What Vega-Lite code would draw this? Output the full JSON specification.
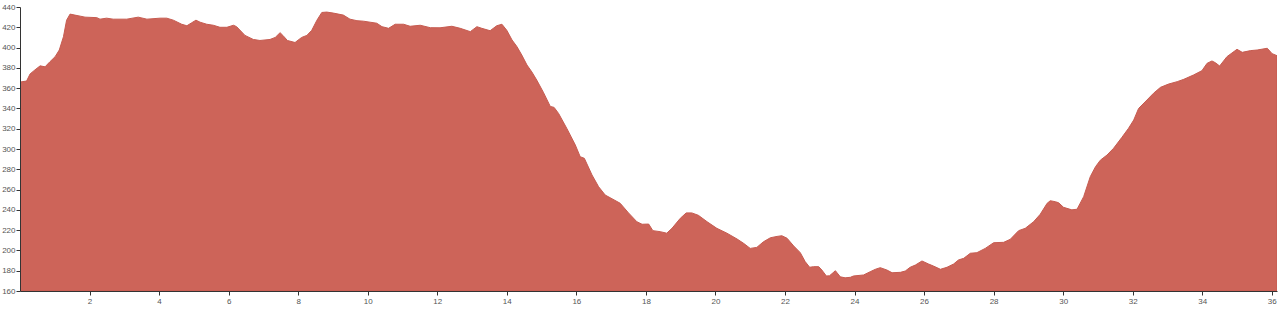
{
  "$schema": "https://vega.github.io/schema/vega-lite/v6.json",
  "width": 1257,
  "height": 284,
  "autosize": {"type": "none"},
  "padding": {"left": 20, "top": 7, "right": 4, "bottom": 19},
  "background": "white",
  "config": {"view": {"stroke": null}},
  "data": {"values": [
    {"d": 0.0, "e": 366}, {"d": 0.19, "e": 367}, {"d": 0.29, "e": 374}, {"d": 0.43, "e": 378},
    {"d": 0.58, "e": 382}, {"d": 0.72, "e": 381}, {"d": 0.86, "e": 386}, {"d": 1.01, "e": 391},
    {"d": 1.13, "e": 397.6}, {"d": 1.25, "e": 410.7}, {"d": 1.34, "e": 427}, {"d": 1.44, "e": 433},
    {"d": 1.58, "e": 432}, {"d": 1.73, "e": 431}, {"d": 1.87, "e": 430}, {"d": 2.21, "e": 429.5},
    {"d": 2.3, "e": 428}, {"d": 2.49, "e": 429}, {"d": 2.68, "e": 428}, {"d": 3.07, "e": 428},
    {"d": 3.4, "e": 430}, {"d": 3.65, "e": 428}, {"d": 4.03, "e": 429}, {"d": 4.22, "e": 429},
    {"d": 4.41, "e": 427}, {"d": 4.65, "e": 423}, {"d": 4.8, "e": 421.5}, {"d": 4.94, "e": 424.5},
    {"d": 5.06, "e": 427}, {"d": 5.18, "e": 425}, {"d": 5.37, "e": 423}, {"d": 5.56, "e": 422},
    {"d": 5.75, "e": 420}, {"d": 5.95, "e": 420}, {"d": 6.14, "e": 422}, {"d": 6.23, "e": 420.6},
    {"d": 6.47, "e": 412}, {"d": 6.71, "e": 408}, {"d": 6.9, "e": 407}, {"d": 7.19, "e": 408},
    {"d": 7.34, "e": 410}, {"d": 7.48, "e": 414.7}, {"d": 7.56, "e": 412}, {"d": 7.69, "e": 407},
    {"d": 7.91, "e": 405}, {"d": 8.1, "e": 410}, {"d": 8.25, "e": 412}, {"d": 8.39, "e": 417},
    {"d": 8.54, "e": 427}, {"d": 8.68, "e": 434.6}, {"d": 8.82, "e": 435}, {"d": 9.01, "e": 434},
    {"d": 9.3, "e": 432}, {"d": 9.49, "e": 428}, {"d": 9.69, "e": 426.5}, {"d": 9.88, "e": 426},
    {"d": 10.07, "e": 425}, {"d": 10.26, "e": 424}, {"d": 10.41, "e": 420.6}, {"d": 10.6, "e": 419},
    {"d": 10.79, "e": 423}, {"d": 11.03, "e": 423}, {"d": 11.22, "e": 421}, {"d": 11.51, "e": 422},
    {"d": 11.8, "e": 419.6}, {"d": 12.08, "e": 419.5}, {"d": 12.42, "e": 421}, {"d": 12.66, "e": 419},
    {"d": 12.95, "e": 415.7}, {"d": 13.14, "e": 420.6}, {"d": 13.28, "e": 419}, {"d": 13.52, "e": 416.6},
    {"d": 13.71, "e": 421.5}, {"d": 13.86, "e": 423}, {"d": 14.0, "e": 417}, {"d": 14.15, "e": 407.5},
    {"d": 14.29, "e": 401}, {"d": 14.43, "e": 392.7}, {"d": 14.58, "e": 382.8}, {"d": 14.72, "e": 376},
    {"d": 14.86, "e": 368}, {"d": 15.05, "e": 356}, {"d": 15.25, "e": 342}, {"d": 15.36, "e": 341},
    {"d": 15.49, "e": 335}, {"d": 15.73, "e": 320}, {"d": 15.97, "e": 304}, {"d": 16.11, "e": 292.4},
    {"d": 16.23, "e": 290.8}, {"d": 16.45, "e": 274.4}, {"d": 16.64, "e": 262.8}, {"d": 16.83, "e": 254.6},
    {"d": 16.97, "e": 252}, {"d": 17.26, "e": 246.5}, {"d": 17.5, "e": 237}, {"d": 17.74, "e": 228.3},
    {"d": 17.89, "e": 225.8}, {"d": 18.08, "e": 226}, {"d": 18.2, "e": 219.5}, {"d": 18.41, "e": 218.5},
    {"d": 18.6, "e": 217}, {"d": 18.75, "e": 221.8}, {"d": 18.99, "e": 231.7}, {"d": 19.16, "e": 237},
    {"d": 19.32, "e": 237}, {"d": 19.51, "e": 234.6}, {"d": 19.76, "e": 228.3}, {"d": 20.04, "e": 221.8},
    {"d": 20.33, "e": 217}, {"d": 20.62, "e": 211.3}, {"d": 20.81, "e": 207}, {"d": 21.0, "e": 202},
    {"d": 21.19, "e": 203}, {"d": 21.38, "e": 208.5}, {"d": 21.58, "e": 212.5}, {"d": 21.77, "e": 213.8},
    {"d": 21.91, "e": 214.5}, {"d": 22.06, "e": 212}, {"d": 22.25, "e": 204.4}, {"d": 22.44, "e": 197.8},
    {"d": 22.58, "e": 189}, {"d": 22.71, "e": 183.4}, {"d": 22.82, "e": 184}, {"d": 22.97, "e": 184},
    {"d": 23.06, "e": 180.7}, {"d": 23.19, "e": 174.8}, {"d": 23.28, "e": 175}, {"d": 23.45, "e": 180},
    {"d": 23.59, "e": 174}, {"d": 23.73, "e": 173}, {"d": 23.88, "e": 173.5}, {"d": 23.97, "e": 174.8},
    {"d": 24.26, "e": 175.8}, {"d": 24.45, "e": 179}, {"d": 24.6, "e": 181.4}, {"d": 24.74, "e": 183},
    {"d": 24.93, "e": 180.7}, {"d": 25.08, "e": 178}, {"d": 25.32, "e": 178.4}, {"d": 25.46, "e": 179.7},
    {"d": 25.6, "e": 183.4}, {"d": 25.75, "e": 185.6}, {"d": 25.94, "e": 189.6}, {"d": 26.13, "e": 186.6},
    {"d": 26.27, "e": 184.6}, {"d": 26.47, "e": 181.4}, {"d": 26.66, "e": 183.4}, {"d": 26.85, "e": 186.6},
    {"d": 26.99, "e": 190.6}, {"d": 27.14, "e": 192.2}, {"d": 27.33, "e": 197.2}, {"d": 27.52, "e": 197.8},
    {"d": 27.76, "e": 202}, {"d": 28.0, "e": 207.6}, {"d": 28.29, "e": 208}, {"d": 28.48, "e": 211},
    {"d": 28.72, "e": 219.5}, {"d": 28.91, "e": 221.8}, {"d": 29.15, "e": 228.3}, {"d": 29.34, "e": 235.6},
    {"d": 29.54, "e": 246.5}, {"d": 29.63, "e": 249}, {"d": 29.78, "e": 248}, {"d": 29.87, "e": 247},
    {"d": 30.01, "e": 242.5}, {"d": 30.25, "e": 240}, {"d": 30.4, "e": 240.6}, {"d": 30.59, "e": 253},
    {"d": 30.78, "e": 272.7}, {"d": 30.93, "e": 282.5}, {"d": 31.07, "e": 289}, {"d": 31.26, "e": 294},
    {"d": 31.45, "e": 300.7}, {"d": 31.69, "e": 311.5}, {"d": 31.88, "e": 320.4}, {"d": 32.03, "e": 328.6},
    {"d": 32.17, "e": 340}, {"d": 32.41, "e": 348.3}, {"d": 32.6, "e": 355}, {"d": 32.8, "e": 360.8},
    {"d": 33.03, "e": 364}, {"d": 33.28, "e": 366.4}, {"d": 33.47, "e": 368.7}, {"d": 33.75, "e": 373},
    {"d": 33.99, "e": 377.2}, {"d": 34.14, "e": 384.5}, {"d": 34.28, "e": 386.8}, {"d": 34.38, "e": 385},
    {"d": 34.5, "e": 381.8}, {"d": 34.71, "e": 391}, {"d": 35.0, "e": 398.3}, {"d": 35.15, "e": 395.3},
    {"d": 35.39, "e": 397}, {"d": 35.58, "e": 397.6}, {"d": 35.87, "e": 399.3}, {"d": 36.01, "e": 394},
    {"d": 36.15, "e": 392}
  ]},
  "mark": {"type": "area", "color": "#cd6459", "stroke": "#c65b50", "strokeWidth": 1, "line": false, "clip": true},
  "encoding": {
    "x": {
      "field": "d", "type": "quantitative",
      "scale": {"domain": [0, 36.15], "nice": false, "zero": false},
      "axis": {
        "title": null, "grid": false, "zindex": 1, "values": [2,4,6,8,10,12,14,16,18,20,22,24,26,28,30,32,34,36],
        "domainColor": "#333", "domainWidth": 1, "tickColor": "#333", "tickSize": 4,
        "labelFontSize": 8, "labelColor": "#555", "labelFont": "Liberation Sans", "labelPadding": 2
      }
    },
    "y": {
      "field": "e", "type": "quantitative",
      "scale": {"domain": [160, 440], "nice": false, "zero": false, "clamp": true},
      "axis": {
        "title": null, "grid": false, "zindex": 1, "values": [160,180,200,220,240,260,280,300,320,340,360,380,400,420,440],
        "domainColor": "#333", "domainWidth": 1, "tickColor": "#333", "tickSize": 4,
        "labelFontSize": 8, "labelColor": "#555", "labelFont": "Liberation Sans", "labelPadding": 1
      }
    }
  }
}
